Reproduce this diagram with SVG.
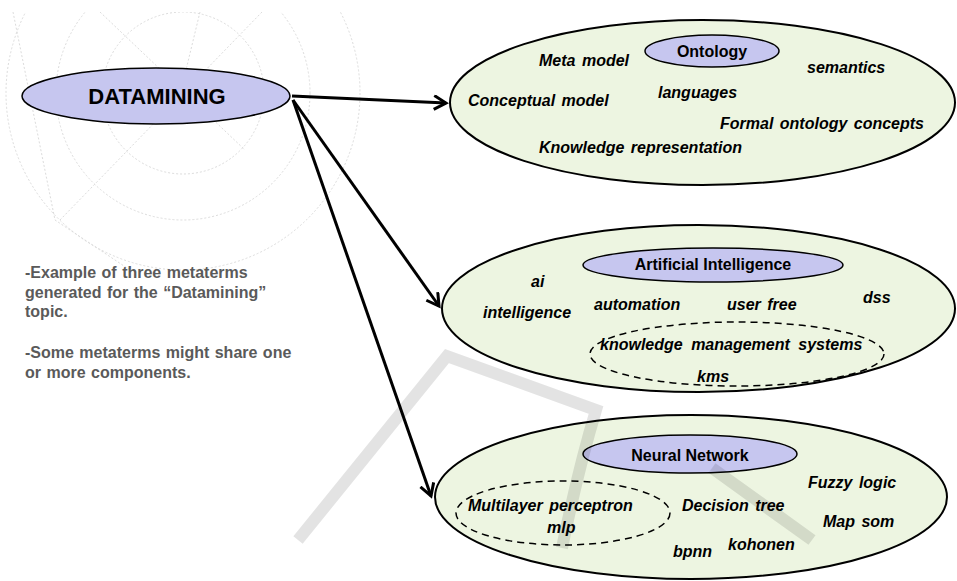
<svg xmlns="http://www.w3.org/2000/svg" width="957" height="581" viewBox="0 0 957 581">
<style>
.big{fill:#edf5e1;stroke:#000;stroke-width:2}
.head{fill:#c6c6ef;stroke:#000;stroke-width:1.5}
.dash{fill:none;stroke:#000;stroke-width:1.5;stroke-dasharray:7 5}
.t{font-family:"Liberation Sans",Arial,sans-serif;font-weight:bold;font-style:italic;font-size:16px;fill:#000;word-spacing:2px}
.h{font-family:"Liberation Sans",Arial,sans-serif;font-weight:bold;font-size:16px;fill:#000;text-anchor:middle}
.note{font-family:"Liberation Sans",Arial,sans-serif;font-weight:bold;font-size:16px;fill:#5a5a5a;word-spacing:1px}
.wm{fill:none;stroke:#dcdcdc;stroke-width:1;stroke-dasharray:2 2}
.wl{fill:none;stroke:#000;stroke-opacity:0.11;stroke-width:12}
.conn{fill:none;stroke:#000;stroke-width:3}
</style>
<defs>
<marker id="arr" markerUnits="userSpaceOnUse" markerWidth="20" markerHeight="20" refX="13" refY="8" orient="auto">
<path d="M1,1 L13,8 L1,15" fill="none" stroke="#000" stroke-width="3" stroke-linejoin="miter"/>
</marker>
<clipPath id="wmclip"><rect x="0" y="12" width="400" height="270"/></clipPath>
</defs>
<rect width="957" height="581" fill="#fff"/>
<g id="watermark-rings" clip-path="url(#wmclip)">
<circle class="wm" cx="183" cy="93" r="81"/>
<circle class="wm" cx="183" cy="93" r="127"/>
<circle class="wm" cx="183" cy="93" r="177"/>
<path class="wm" d="M100,12 L245,150 M262,12 L60,220 M200,12 L186,70 M13,12 L55,220 L130,270"/>
</g>
<g id="connectors">
<line class="conn" x1="292" y1="96" x2="446" y2="103" marker-end="url(#arr)"/>
<line class="conn" x1="293" y1="100" x2="439" y2="306" marker-end="url(#arr)"/>
<line class="conn" x1="293" y1="100" x2="431" y2="496" marker-end="url(#arr)"/>
</g>
<g id="datamining">
<ellipse class="head" cx="156" cy="96" rx="134" ry="28"/>
<text class="h" x="157" y="104" style="font-size:22px">DATAMINING</text>
</g>
<g id="ontology">
<ellipse class="big" cx="702.5" cy="102.5" rx="252.5" ry="82.5"/>
<ellipse class="head" cx="712" cy="51" rx="67" ry="16"/>
<text class="h" x="712" y="57">Ontology</text>
<text class="t" x="539" y="66">Meta model</text>
<text class="t" x="807" y="73">semantics</text>
<text class="t" x="468" y="106">Conceptual model</text>
<text class="t" x="658" y="98">languages</text>
<text class="t" x="720" y="129">Formal ontology concepts</text>
<text class="t" x="539" y="153">Knowledge representation</text>
</g>
<g id="ai">
<ellipse class="big" cx="698.5" cy="308.5" rx="256.5" ry="83.5"/>
<ellipse class="head" cx="713" cy="265" rx="130" ry="17"/>
<text class="h" x="713" y="270">Artificial Intelligence</text>
<ellipse class="dash" cx="737" cy="354" rx="147" ry="32"/>
<text class="t" x="531" y="287">ai</text>
<text class="t" x="483" y="318">intelligence</text>
<text class="t" x="594" y="310">automation</text>
<text class="t" x="727" y="310">user free</text>
<text class="t" x="863" y="303">dss</text>
<text class="t" x="600" y="350" style="word-spacing:4px">knowledge management systems</text>
<text class="t" x="697" y="382">kms</text>
</g>
<g id="neural">
<ellipse class="big" cx="691" cy="497" rx="256" ry="82"/>
<ellipse class="head" cx="690" cy="454" rx="107" ry="19"/>
<text class="h" x="690" y="461">Neural Network</text>
<ellipse class="dash" cx="563" cy="513" rx="107" ry="32"/>
<text class="t" x="468" y="511">Multilayer perceptron</text>
<text class="t" x="547" y="533">mlp</text>
<text class="t" x="682" y="511">Decision tree</text>
<text class="t" x="808" y="488">Fuzzy logic</text>
<text class="t" x="823" y="527">Map som</text>
<text class="t" x="728" y="550">kohonen</text>
<text class="t" x="673" y="557">bpnn</text>
</g>
<g id="notes">
<text class="note" x="25" y="278">-Example of three metaterms</text>
<text class="note" x="25" y="298">generated for the “Datamining”</text>
<text class="note" x="25" y="317">topic.</text>
<text class="note" x="25" y="358">-Some metaterms might share one</text>
<text class="note" x="25" y="378">or more components.</text>
</g>
<g id="watermark-logo">
<path class="wl" d="M298,540 L447,356 L596,410 Q578,470 562,548"/>
<path class="wl" d="M712,468 L812,540"/>
</g>
</svg>
